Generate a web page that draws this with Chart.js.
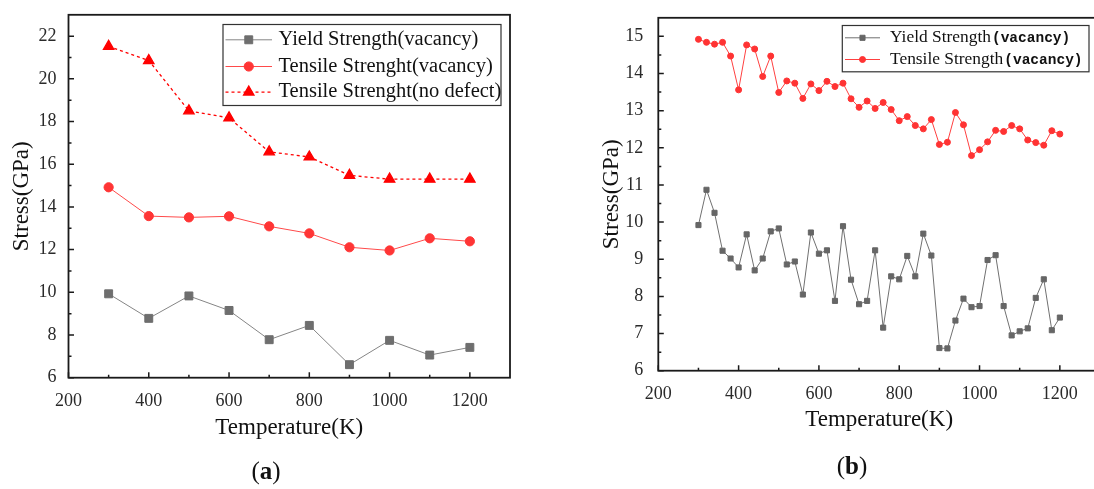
<!DOCTYPE html>
<html>
<head>
<meta charset="utf-8">
<script src="https://cdn.jsdelivr.net/npm/chart.js@4.4.1/dist/chart.umd.min.js"></script>
<style>
  html, body { margin: 0; padding: 0; background: #fff; overflow: hidden; width: 1094px; height: 489px; }
  .panel { position: absolute; top: 0; }
  #panelA { left: 0; }
  #panelB { left: 560px; }
  .tag { position: absolute; font-family: 'Liberation Serif', 'Times New Roman', serif; font-size: 25px; color: #111; transform: translate(-50%, -50%); }
</style>
</head>
<body>
<div class="panel" id="panelA"><canvas id="chartA" width="540" height="489"></canvas></div>
<div class="panel" id="panelB"><canvas id="chartB" width="560" height="489"></canvas></div>
<div class="tag" style="left:266px; top:471px">(<b>a</b>)</div>
<div class="tag" style="left:852px; top:466px">(<b>b</b>)</div>
<script>
// (a) every 100 K
const tempA = [300, 400, 500, 600, 700, 800, 900, 1000, 1100, 1200]
const yieldA = [9.93, 8.78, 9.83, 9.15, 7.78, 8.45, 6.61, 7.75, 7.06, 7.42]
const tensileA = [14.92, 13.57, 13.51, 13.56, 13.09, 12.76, 12.11, 11.96, 12.53, 12.39]
const noDefectA = [21.52, 20.86, 18.5, 18.17, 16.58, 16.34, 15.48, 15.3, 15.3, 15.3]

// (b) every 20 K
const tempB = [300, 320, 340, 360, 380, 400, 420, 440, 460, 480,
  500, 520, 540, 560, 580, 600, 620, 640, 660, 680,
  700, 720, 740, 760, 780, 800, 820, 840, 860, 880,
  900, 920, 940, 960, 980, 1000, 1020, 1040, 1060, 1080,
  1100, 1120, 1140, 1160, 1180, 1200]
const yieldB = [9.92, 10.87, 10.25, 9.23, 9.02, 8.78, 9.67, 8.70, 9.02, 9.75,
  9.83, 8.86, 8.94, 8.05, 9.72, 9.15, 9.24, 7.88, 9.89, 8.45,
  7.79, 7.88, 9.24, 7.16, 8.54, 8.46, 9.09, 8.54, 9.69, 9.10,
  6.61, 6.60, 7.35, 7.94, 7.71, 7.74, 8.98, 9.11, 7.74, 6.95,
  7.06, 7.14, 7.96, 8.46, 7.09, 7.43]
const tensileB = [14.92, 14.84, 14.79, 14.84, 14.47, 13.56, 14.77, 14.66, 13.92, 14.47,
  13.49, 13.80, 13.74, 13.33, 13.72, 13.54, 13.79, 13.65, 13.74, 13.32,
  13.09, 13.26, 13.06, 13.22, 13.03, 12.73, 12.84, 12.60, 12.51, 12.76,
  12.09, 12.15, 12.95, 12.62, 11.79, 11.95, 12.16, 12.47, 12.44, 12.60,
  12.51, 12.21, 12.14, 12.07, 12.46, 12.37]

const serif = "'Liberation Serif', 'Times New Roman', serif"

function pairs(xs, ys) {
  return xs.map((x, i) => ({ x: x, y: ys[i] }))
}

// axis frame plus inward major / minor ticks
const frameTicks = {
  id: 'frameTicks',
  afterDraw(chart) {
    const { ctx, chartArea: a, scales } = chart
    ctx.save()
    ctx.strokeStyle = '#1a1a1a'
    ctx.lineWidth = 1.5
    ctx.beginPath()
    for (const id of ['x', 'y']) {
      const s = scales[id]
      const vals = s.ticks.map(t => t.value)
      const step = vals[1] - vals[0]
      const minor = []
      vals.forEach(v => { if (v + step / 2 < s.max) minor.push(v + step / 2) })
      const mark = (v, len) => {
        const p = s.getPixelForValue(v)
        if (id == 'x') { ctx.moveTo(p, a.bottom); ctx.lineTo(p, a.bottom - len) }
        else { ctx.moveTo(a.left, p); ctx.lineTo(a.left + len, p) }
      }
      vals.forEach(v => mark(v, 5.5))
      minor.forEach(v => mark(v, 3))
    }
    ctx.stroke()
    ctx.lineWidth = 1.8
    ctx.strokeRect(a.left, a.top, a.right - a.left, a.bottom - a.top)
    ctx.restore()
  }
}

// boxed legend drawn inside the plot
const boxLegend = {
  id: 'boxLegend',
  afterDraw(chart, args, o) {
    const { ctx, chartArea: a } = chart
    const left = a.right - o.right - o.w
    const top = a.top + o.top
    ctx.save()
    ctx.strokeStyle = '#333'
    ctx.lineWidth = 1.2
    ctx.strokeRect(left, top, o.w, o.h)
    o.rows.forEach((row, i) => {
      const ds = chart.data.datasets[i]
      const yy = top + row
      ctx.strokeStyle = ds.borderColor
      ctx.lineWidth = ds.borderWidth
      ctx.setLineDash(ds.borderDash || [])
      ctx.beginPath()
      ctx.moveTo(left + o.line[0], yy)
      ctx.lineTo(left + o.line[1], yy)
      ctx.stroke()
      ctx.setLineDash([])
      ctx.fillStyle = ds.pointBackgroundColor
      ctx.strokeStyle = ds.pointBackgroundColor
      Chart.helpers.drawPoint(ctx, {
        pointStyle: ds.pointStyle, radius: ds.pointRadius, rotation: 0, borderWidth: 1
      }, left + (o.line[0] + o.line[1]) / 2, yy)
      ctx.fillStyle = '#111'
      ctx.textBaseline = 'middle'
      ctx.font = o.size + 'px ' + serif
      ctx.fillText(o.labels[i], left + o.textX, yy)
      if (o.suffix) {
        const w = ctx.measureText(o.labels[i]).width
        ctx.font = 'bold ' + o.suffixSize + "px 'Liberation Mono', monospace"
        ctx.fillText(o.suffix, left + o.textX + w + 1, yy + 1)
      }
    })
    ctx.restore()
  }
}

function axes(cfg) {
  return {
    x: {
      type: 'linear', min: cfg.xMin, max: cfg.xMax,
      grid: { display: false }, border: { display: false },
      ticks: { stepSize: 200, includeBounds: false, padding: 5, maxRotation: 0,
        color: '#2a2a2a', font: { family: serif, size: 18 },
        callback: v => String(v) },
      title: { display: true, text: 'Temperature(K)', color: '#111',
        font: { family: serif, size: 23 }, padding: { bottom: cfg.xTitlePad } },
      afterFit(s) { s.height = cfg.xHeight }
    },
    y: {
      type: 'linear', min: cfg.yMin, max: cfg.yMax,
      grid: { display: false }, border: { display: false },
      ticks: { stepSize: cfg.yStep, includeBounds: false, padding: cfg.yPad,
        color: '#2a2a2a', font: { family: serif, size: 18 },
        callback: v => String(v) },
      title: { display: true, text: 'Stress(GPa)', color: '#111',
        font: { family: serif, size: 23 }, padding: { top: cfg.yTitlePad } },
      afterFit(s) { s.width = cfg.yWidth }
    }
  }
}

new Chart(document.getElementById('chartA'), {
  type: 'line',
  data: {
    datasets: [{
      label: 'Yield Strength(vacancy)',
      data: pairs(tempA, yieldA),
      borderColor: '#858585', borderWidth: 1,
      pointStyle: 'rect', pointRadius: 5.6,
      pointBackgroundColor: '#6e6e6e', pointBorderColor: '#6e6e6e'
    }, {
      label: 'Tensile Strenght(vacancy)',
      data: pairs(tempA, tensileA),
      borderColor: '#ff4a4a', borderWidth: 1,
      pointStyle: 'circle', pointRadius: 4.6,
      pointBackgroundColor: '#ff3535', pointBorderColor: '#ff3535'
    }, {
      label: 'Tensile Strenght(no defect)',
      data: pairs(tempA, noDefectA),
      borderColor: '#ff0000', borderWidth: 1.3, borderDash: [3, 3],
      pointStyle: 'triangle', pointRadius: 6,
      pointBackgroundColor: '#ff0000', pointBorderColor: '#ff0000'
    }]
  },
  options: {
    responsive: false, animation: false,
    layout: { padding: { left: 0, right: 30, top: 11, bottom: 0 } },
    scales: axes({ xMin: 200, xMax: 1300, yMin: 6, yMax: 23, yStep: 2,
      xHeight: 111.3, xTitlePad: 47, yWidth: 68.5, yPad: 4, yTitlePad: 8 }),
    plugins: {
      legend: { display: false }, tooltip: { enabled: false },
      boxLegend: {
        right: 9, top: 9.7, w: 278, h: 81, rows: [15.3, 42, 67.6],
        line: [2.5, 49], textX: 55.5, size: 20.5,
        labels: ['Yield Strength(vacancy)', 'Tensile Strenght(vacancy)', 'Tensile Strenght(no defect)']
      }
    }
  },
  plugins: [frameTicks, boxLegend]
})

new Chart(document.getElementById('chartB'), {
  type: 'line',
  data: {
    datasets: [{
      label: 'Yield Strength',
      data: pairs(tempB, yieldB),
      borderColor: '#707070', borderWidth: 1,
      pointStyle: 'rect', pointRadius: 3.6,
      pointBackgroundColor: '#666666', pointBorderColor: '#666666'
    }, {
      label: 'Tensile Strength',
      data: pairs(tempB, tensileB),
      borderColor: '#ff4040', borderWidth: 1,
      pointStyle: 'circle', pointRadius: 3,
      pointBackgroundColor: '#ff3333', pointBorderColor: '#ff3333'
    }]
  },
  options: {
    responsive: false, animation: false,
    layout: { padding: { left: 0, right: 20, top: 14.3, bottom: 0 } },
    scales: axes({ xMin: 200, xMax: 1300, yMin: 6, yMax: 15.5, yStep: 1,
      xHeight: 118.3, xTitlePad: 55, yWidth: 98.3, yPad: 7, yTitlePad: 38 }),
    plugins: {
      legend: { display: false }, tooltip: { enabled: false },
      boxLegend: {
        right: 11, top: 7.7, w: 246.7, h: 46.3, rows: [12.3, 34],
        line: [2.7, 37.7], textX: 47.7, size: 17.4,
        labels: ['Yield Strength', 'Tensile Strength'],
        suffix: '(vacancy)', suffixSize: 14.5
      }
    }
  },
  plugins: [frameTicks, boxLegend]
})
</script>
</body>
</html>
